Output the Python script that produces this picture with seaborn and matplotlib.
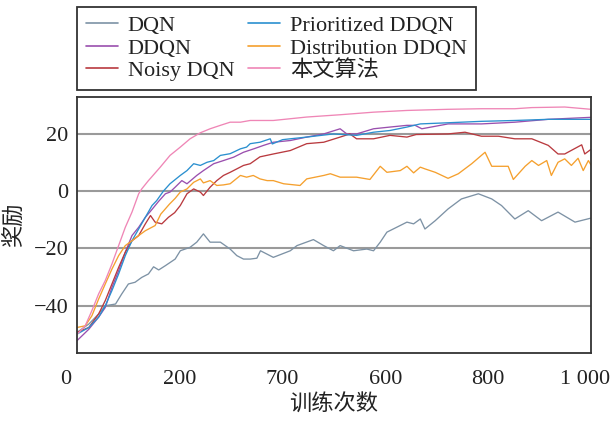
import numpy as np
import pandas as pd
import seaborn as sns
import matplotlib
matplotlib.use("Agg")
import matplotlib.pyplot as plt
from matplotlib.transforms import ScaledTranslation

# ---------------- data ----------------
labels = ["DQN", "DDQN", "Noisy DQN", "Prioritized DDQN", "Distribution DDQN", "本文算法"]
colors = ["#7d92a5", "#9a4fae", "#b93a3f", "#2b90cf", "#f5a02e", "#ef86b6"]

dqn_x = [0, 23, 42, 55, 75, 87, 100, 113, 126, 139, 149, 159, 172, 191, 201, 220, 233, 246,
         259, 279, 298, 311, 324, 337, 350, 357, 382, 415, 428, 460, 480, 499, 512, 538, 564,
         577, 590, 603, 622, 642, 655, 668, 677, 697, 722, 748, 781, 807, 826, 852, 878, 904,
         936, 969, 1000]
dqn_y = [-49.3, -46.4, -42.9, -40.0, -39.4, -35.9, -32.4, -31.8, -30.1, -28.9, -26.4, -27.5,
         -26.0, -23.7, -20.8, -19.6, -17.8, -14.9, -17.8, -17.8, -20.2, -22.5, -23.7, -23.7,
         -23.4, -20.8, -23.1, -20.8, -19.0, -16.9, -19.0, -20.8, -19.0, -20.8, -20.2, -20.8,
         -17.8, -14.3, -12.6, -10.8, -11.4, -9.7, -13.2, -10.3, -6.2, -2.7, -0.9, -2.7, -5.0,
         -9.7, -6.8, -10.3, -7.3, -10.8, -9.4]

ddqn_x = [0, 23, 42, 55, 68, 81, 94, 107, 120, 133, 143, 159, 172, 181, 191, 204, 214, 233,
          246, 266, 285, 305, 324, 344, 363, 382, 415, 447, 480, 512, 525, 544, 577, 609, 642,
          658, 671, 722, 787, 852, 917, 1000]
ddqn_y = [-52.2, -48.2, -44.0, -40.6, -33.6, -27.8, -21.3, -15.5, -12.6, -9.1, -7.0, -3.5,
          -0.9, -0.3, 1.4, 3.7, 2.6, 5.5, 7.2, 9.6, 10.7, 11.9, 13.6, 14.8, 16.0, 17.1, 17.7,
          18.9, 20.0, 21.8, 20.0, 20.0, 21.8, 22.4, 23.0, 23.0, 21.8, 23.5, 23.5, 24.1, 25.1,
          25.8]

noisy_x = [0, 23, 42, 55, 68, 81, 94, 107, 120, 133, 143, 152, 165, 178, 190, 201, 214, 227,
           240, 246, 259, 272, 285, 298, 311, 324, 337, 356, 382, 415, 447, 480, 512, 531, 544,
           577, 609, 642, 660, 722, 755, 787, 820, 852, 885, 917, 936, 949, 982, 988, 1000]
noisy_y = [-49.3, -47.6, -42.9, -38.2, -32.4, -26.6, -21.3, -17.3, -15.5, -11.4, -8.5, -10.8,
           -11.4, -9.1, -7.5, -5.0, -0.9, 0.8, -0.3, -1.5, 1.4, 3.7, 5.5, 6.6, 7.8, 9.0, 9.6,
           12.0, 13.0, 14.2, 16.6, 17.1, 18.9, 20.0, 18.3, 18.3, 19.5, 18.9, 19.8, 20.0, 20.6,
           19.2, 19.2, 18.3, 18.3, 16.0, 13.0, 13.0, 16.2, 13.0, 14.6]

prior_x = [0, 23, 42, 55, 68, 81, 94, 107, 120, 133, 146, 155, 168, 181, 201, 214, 227, 240,
           253, 266, 279, 298, 318, 330, 337, 356, 376, 380, 400, 415, 447, 499, 544, 577, 609,
           642, 668, 722, 787, 852, 917, 1000]
prior_y = [-49.9, -47.6, -44.0, -40.0, -34.7, -28.9, -22.5, -17.3, -13.2, -9.1, -5.0, -3.3,
           0.0, 2.6, 5.5, 7.2, 9.6, 9.0, 10.1, 10.7, 12.5, 13.1, 14.8, 15.4, 16.6, 17.1, 18.3,
           16.5, 18.0, 18.3, 18.9, 20.0, 19.5, 20.6, 21.2, 22.4, 23.5, 23.9, 24.4, 24.7, 25.1,
           25.1]

distr_x = [0, 16, 29, 42, 55, 68, 81, 94, 107, 120, 133, 152, 163, 180, 191, 201, 214, 227,
           240, 246, 259, 272, 285, 298, 318, 330, 343, 356, 370, 382, 402, 434, 447, 480, 493,
           512, 544, 570, 590, 603, 629, 642, 655, 668, 677, 697, 722, 742, 768, 794, 807, 839,
           849, 872, 885, 898, 914, 923, 936, 949, 962, 975, 985, 995, 1000]
distr_y = [-47.6, -47.0, -43.5, -37.7, -32.4, -27.2, -22.5, -19.0, -17.3, -15.5, -13.8, -12.0,
           -8.0, -4.5, -2.5, -0.3, 0.8, 3.1, 4.3, 2.9, 3.7, 2.0, 2.2, 2.6, 5.5, 4.9, 5.5, 4.3,
           3.7, 3.7, 2.6, 2.0, 4.3, 5.5, 6.1, 4.9, 4.9, 4.1, 8.7, 6.6, 7.2, 8.7, 6.4, 8.4, 7.8,
           6.6, 4.5, 6.1, 9.6, 13.6, 8.7, 8.7, 4.1, 8.7, 10.7, 9.0, 10.7, 5.5, 10.1, 11.3, 9.0,
           11.5, 7.2, 10.7, 9.2]

ours_x = [0, 16, 29, 42, 55, 68, 81, 94, 107, 120, 126, 139, 143, 162, 181, 201, 220, 240,
          259, 279, 298, 318, 337, 382, 447, 512, 577, 642, 722, 787, 852, 885, 949, 1000]
ours_y = [-50.0, -47.0, -41.7, -35.9, -31.2, -25.4, -19.0, -12.6, -7.3, -0.9, 0.8, 3.7, 4.5,
          8.4, 12.5, 15.4, 18.3, 20.4, 21.8, 23.0, 24.1, 24.1, 24.7, 24.7, 25.9, 26.7, 27.6,
          28.2, 28.6, 28.8, 28.8, 29.2, 29.4, 28.6]

xticks = [0, 200, 400, 600, 800, 1000]
xtick_labels = ["0", "200", "700", "600", "800", "1 000"]
yticks = [-40, -20, 0, 20]

series_x = [dqn_x, ddqn_x, noisy_x, prior_x, distr_x, ours_x]
series_y = [dqn_y, ddqn_y, noisy_y, prior_y, distr_y, ours_y]
df = pd.concat([pd.DataFrame({"训练次数": x, "奖励": y, "算法": lab})
                for x, y, lab in zip(series_x, series_y, labels)], ignore_index=True)

# ---------------- style ----------------
sns.set_theme(style="white")
plt.rcParams["font.family"] = ["Liberation Serif", "Noto Sans CJK SC"]
plt.rcParams["axes.unicode_minus"] = True

FS = 16
fig = plt.figure(figsize=(6.13, 4.23), dpi=100)
ax = fig.add_axes([0.1256, 0.1655, 0.964 - 0.1256, 0.7707 - 0.1655])

sns.lineplot(data=df, x="训练次数", y="奖励", hue="算法", hue_order=labels,
             palette=dict(zip(labels, colors)), estimator=None, sort=True,
             linewidth=0.95, ax=ax, legend=False)

ax.set_xlim(0, 1000)
ax.set_ylim(-56.5, 32.9)
ax.set_yticks(yticks)
ax.set_xticks(xticks)
ax.set_xticklabels(xtick_labels)
ax.tick_params(axis="both", direction="in", length=3, width=0.8, color="#555555",
               labelsize=FS, labelcolor="#222222")
ax.tick_params(axis="x", pad=12)
ax.tick_params(axis="y", pad=6)
ax.yaxis.grid(True, color="#9a9a9a", linewidth=1.5)
ax.xaxis.grid(False)
ax.set_axisbelow(True)
for s in ax.spines.values():
    s.set_color("#333333")
    s.set_linewidth(1.3)

ax.set_xlabel("训练次数", fontsize=FS, color="#222222", labelpad=4)
ax.set_ylabel("奖励", fontsize=FS, color="#222222", labelpad=6)

# shift first / last x tick labels as in the reference typesetting
tl = ax.get_xticklabels()
tl[0].set_transform(tl[0].get_transform() + ScaledTranslation(-0.11, 0, fig.dpi_scale_trans))
tl[-1].set_transform(tl[-1].get_transform() + ScaledTranslation(-0.06, 0, fig.dpi_scale_trans))

handles = [plt.Line2D([], [], color=c, lw=1.2) for c in colors]
leg = fig.legend(handles, labels, ncol=2, loc="upper left",
                 bbox_to_anchor=(0.1252, 0.984), borderaxespad=0,
                 fontsize=FS, frameon=True, fancybox=False, framealpha=1,
                 edgecolor="#333333", handlelength=1.45, handletextpad=0.45,
                 columnspacing=0.6, labelspacing=0.08, borderpad=0.4)
leg.get_frame().set_linewidth(1.3)
for t in leg.get_texts():
    t.set_color("#222222")

fig.savefig("out.png", dpi=100)
